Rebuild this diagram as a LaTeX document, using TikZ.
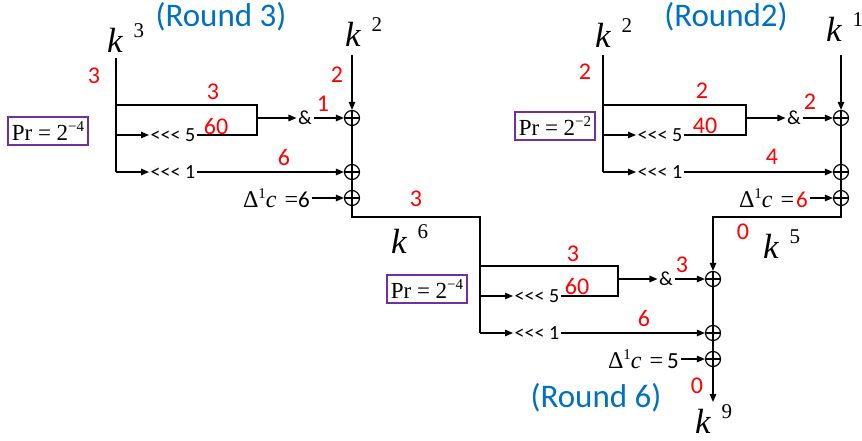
\documentclass[tikz,border=0pt]{standalone}
\usepackage{fontspec}
\setmainfont{Carlito}
\newfontfamily\tms{Liberation Serif}
\usetikzlibrary{arrows.meta,calc,positioning}
\definecolor{NumRed}{RGB}{255,0,0}
\definecolor{RndBlue}{RGB}{0,112,192}
\definecolor{PrPurple}{RGB}{112,48,160}
\tikzset{
  wire/.style={line width=1.2pt, draw=black},
  arr/.style={-{Triangle[length=8pt,width=6.5pt]}},
  xorop/.style={circle, draw, line width=1.2pt, minimum size=15pt, inner sep=0pt,
    path picture={\draw[line width=1.2pt]
      (path picture bounding box.north) -- (path picture bounding box.south)
      (path picture bounding box.west) -- (path picture bounding box.east);}},
  optext/.style={font=\fontsize{20}{20}\selectfont, inner sep=1.5pt},
  numlab/.style={font=\fontsize{24}{24}\selectfont, text=NumRed, inner sep=0pt},
  rndlab/.style={font=\fontsize{33}{33}\selectfont, text=RndBlue, inner sep=0pt},
  prbox/.style={draw=PrPurple, line width=1.3pt, minimum width=80pt, minimum height=28pt, inner sep=0pt},
  keylab/.style={inner sep=0pt, anchor=base west},
  cstlab/.style={inner sep=2pt, anchor=east, font=\fontsize{23}{23}\selectfont}
}
\newcommand{\kv}[1]{{\tms\itshape\fontsize{35}{35}\selectfont k}\hspace{11pt}\raisebox{15pt}{\tms\fontsize{21}{21}\selectfont #1}}
\newcommand{\prv}[1]{{\tms\fontsize{23}{23}\selectfont Pr = 2\raisebox{9pt}{\fontsize{15}{15}\selectfont\char"2212\relax #1}}}
\newcommand{\dlt}[1]{{\tms\fontsize{24}{24}\selectfont Δ\raisebox{9pt}{\fontsize{15}{15}\selectfont 1}{\itshape c}\hspace{8pt}=}#1}
\newcommand{\rotl}[1]{<\kern0pt<\kern0pt<\ #1}
% one key-schedule round: name, trunk x, top of the box, box width
\newcommand{\KeyRound}[4]{%
  \begin{scope}[shift={(#2,#3)}]
    \coordinate (#1-top) at (0,0);
    \coordinate (#1-r5) at (0,30);
    \coordinate (#1-r1) at (0,67);
    \coordinate (#1-bx) at (#4,0);
    \coordinate (#1-bm) at (#4,13);
    \coordinate (#1-by) at (#4,30);
    \node[optext,anchor=west] (#1-rot5) at (33,30) {\rotl{5}};
    \node[optext,anchor=west] (#1-rot1) at (33,67) {\rotl{1}};
    \node[optext] (#1-and) at (#4+48,13) {\&};
    \node[xorop] (#1-x1) at (#4+95,13) {};
    \node[xorop] (#1-x2) at (#4+95,67) {};
    \node[xorop] (#1-x3) at (#4+95,93) {};
  \end{scope}
  \draw[wire] (#1-top) -- (#1-bx) -- (#1-by) -- (#1-rot5.east);
  \draw[wire,arr] (#1-r5) -- (#1-rot5.west);
  \draw[wire,arr] (#1-r1) -- (#1-rot1.west);
  \draw[wire,arr] (#1-bm) -- (#1-and.west);
  \draw[wire,arr] (#1-and.east) -- (#1-x1);
  \draw[wire,arr] (#1-rot1.east) -- (#1-x2);
  \draw[wire] (#1-x1) -- (#1-x2) -- (#1-x3);
}

\begin{document}
\begin{tikzpicture}[x=1pt,y=-1pt]
  \useasboundingbox (0,0) rectangle (862,441);
  \KeyRound{L}{116}{105}{141}
  \KeyRound{R}{603}{105}{143}
  \KeyRound{B}{480}{266}{138}

  % keys
  \node[keylab] (k3) at (107,53) {\kv{3}};
  \node[keylab] (k2a) at (345,47) {\kv{2}};
  \node[keylab] (k2b) at (595,48) {\kv{2}};
  \node[keylab] (k1) at (826,42) {\kv{1}};
  \node[keylab] (k6) at (391,253) {\kv{6}};
  \node[keylab] (k5) at (763,258) {\kv{5}};
  \node[keylab] (k9) at (695,433) {\kv{9}};

  \node[rndlab] (rnd3) at (221,17) {(Round 3)};
  \node[rndlab] (rnd2) at (726,17) {(Round2)};
  \node[rndlab] (rnd6) at (596,398) {(Round 6)};

  \node[prbox] (prL) at (48,131) {\prv{4}};
  \node[prbox] (prR) at (555,126) {\prv{2}};
  \node[prbox] (prB) at (427,289) {\prv{4}};

  \node[cstlab] (dL) at (312,198) {\dlt{6}};
  \node[cstlab] (dR) at (810,198) {\dlt{\hspace{2pt}\textcolor{NumRed}{6}}};
  \node[cstlab] (dB) at (681,359) {\dlt{\hspace{4pt}5}};

  % trunks and joins
  \coordinate (L-in) at (116,58);
  \coordinate (R-in) at (603,55);
  \draw[wire] (L-in) -- (L-r1);
  \draw[wire] (R-in) -- (R-r1);
  \draw[wire,arr] (L-x1 |- 0,55) -- (L-x1);
  \draw[wire,arr] (R-x1 |- 0,55) -- (R-x1);
  \draw[wire,arr] (dL.east) -- (L-x3);
  \draw[wire,arr] (dR.east) -- (R-x3);
  \draw[wire,arr] (dB.east) -- (B-x3);
  \coordinate (jL) at (L-x3 |- 0,217);
  \coordinate (jR) at (R-x3 |- 0,217);
  \coordinate (B-out) at (B-x3 |- 0,402);
  \draw[wire] (L-x3) -- (jL) -| (B-r1);
  \draw[wire,arr] (R-x3) -- (jR) -| (B-x1);
  \draw[wire,arr] (B-x3) -- (B-out);

  % differences
  \foreach \n/\px/\py/\t in {1/94/76/3, 2/213/92/3, 3/216/126/60, 4/323/104/1,
      5/337/75/2, 6/284/157/6, 7/416/199/3, 8/585/72/2, 9/702/91/2,
      10/705/126/40, 11/810/102/2, 12/772/157/4, 13/573/254/3, 14/577/286/60,
      15/682/265/3, 16/644/318/6, 17/697/386/0, 18/743/232/0}
    \node[numlab] (n\n) at (\px,\py) {\t};
\end{tikzpicture}
\end{document}
